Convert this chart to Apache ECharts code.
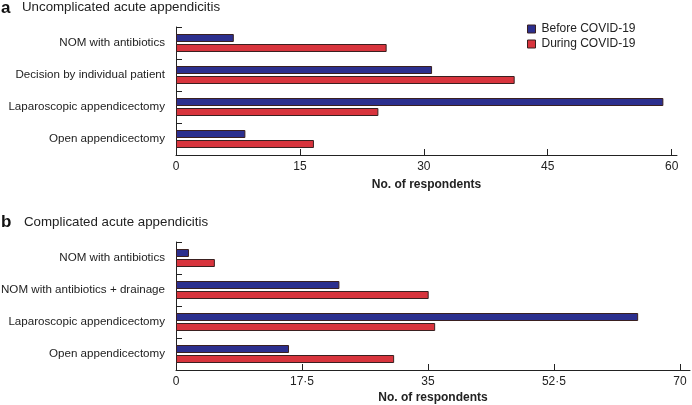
<!DOCTYPE html>
<html><head><meta charset="utf-8">
<script src="https://cdn.jsdelivr.net/npm/echarts@6/dist/echarts.min.js"></script>
<style>html,body{margin:0;padding:0;background:#fff}#c{width:692px;height:405px}</style>
</head><body><div id="c"></div>
<script>
// Panel a: uncomplicated
const catsA = ['NOM with antibiotics', 'Decision by individual patient', 'Laparoscopic appendicectomy', 'Open appendicectomy'];
const beforeA = [7, 31, 59, 8.4];
const duringA = [25.5, 41, 24.5, 16.7];
const ticksA = [0, 15, 30, 45, 60];
// Panel b: complicated
const catsB = ['NOM with antibiotics', 'NOM with antibiotics + drainage', 'Laparoscopic appendicectomy', 'Open appendicectomy'];
const beforeB = [1.8, 22.7, 64.2, 15.7];
const duringB = [5.4, 35.1, 36, 30.3];
const ticksB = [0, 17.5, 35, 52.5, 70];
const seriesNames = ['Before COVID-19', 'During COVID-19'];
const axisName = 'No. of respondents';
const titleA = ['a', 'Uncomplicated acute appendicitis'];
const titleB = ['b', 'Complicated acute appendicitis'];

const FONT = "'Liberation Sans', Arial, Helvetica, sans-serif";
const BLUE = '#2c2f8e';
const RED = '#d8343d';
const TXT = '#222';

function xAx(gi, max, ticks, gap) {
  return {
    type: 'value', gridIndex: gi, min: 0, max: max,
    name: axisName, nameLocation: 'middle', nameGap: gap,
    nameTextStyle: { fontFamily: FONT, fontSize: 12, fontWeight: 'bold', color: TXT },
    splitLine: { show: false },
    axisLine: { show: true, lineStyle: { color: '#222', width: 1 } },
    axisTick: { show: true, inside: true, length: 6, customValues: ticks, lineStyle: { color: '#222' } },
    axisLabel: { customValues: ticks, fontFamily: FONT, fontSize: 12, color: TXT, margin: 6,
      formatter: v => String(v).replace('.', '\u00b7') }
  };
}
function yAx(gi, cats) {
  return {
    type: 'category', gridIndex: gi, data: cats, inverse: true,
    axisLine: { show: true, lineStyle: { color: '#222', width: 1 } },
    axisTick: { show: true, inside: true, length: 6, alignWithLabel: false, lineStyle: { color: '#222' } },
    axisLabel: { fontFamily: FONT, fontSize: 11.6, color: TXT, margin: 11 },
    splitLine: { show: false }
  };
}
function bar(name, data, gi, color) {
  return {
    type: 'bar', name: name, data: data, xAxisIndex: gi, yAxisIndex: gi,
    barWidth: 8, barGap: '25%',
    itemStyle: { color: color, borderColor: '#3a2020', borderWidth: 1 },
    emphasis: { disabled: true }
  };
}

const chart = echarts.init(document.getElementById('c'), null, { renderer: 'canvas' });
chart.setOption({
  animation: false,
  textStyle: { fontFamily: FONT },
  grid: [
    { left: 176, right: 15, top: 27, height: 128, containLabel: false, outerBoundsMode: 'none' },
    { left: 176, right: 2, top: 242, height: 128, containLabel: false, outerBoundsMode: 'none' }
  ],
  xAxis: [xAx(0, 60.65, ticksA, 24), xAx(1, 71.4, ticksB, 22)],
  yAxis: [yAx(0, catsA), yAx(1, catsB)],
  legend: {
    data: seriesNames, orient: 'vertical', left: 522, top: 18, icon: 'rect',
    itemWidth: 8, itemHeight: 8, itemGap: 3,
    itemStyle: { borderColor: '#3a2020', borderWidth: 1 },
    textStyle: { fontFamily: FONT, fontSize: 12, color: TXT, padding: [0, 0, 0, 1] }
  },
  graphic: [
    { type: 'text', left: 1, top: 0, style: { text: titleA[0], font: "bold 17px " + FONT, fill: '#111' } },
    { type: 'text', left: 22, top: 1, style: { text: titleA[1], font: "13.3px " + FONT, fill: TXT } },
    { type: 'text', left: 1, top: 214, style: { text: titleB[0], font: "bold 17px " + FONT, fill: '#111' } },
    { type: 'text', left: 24, top: 216, style: { text: titleB[1], font: "13.3px " + FONT, fill: TXT } }
  ],
  series: [
    bar(seriesNames[0], beforeA, 0, BLUE),
    bar(seriesNames[1], duringA, 0, RED),
    bar(seriesNames[0], beforeB, 1, BLUE),
    bar(seriesNames[1], duringB, 1, RED)
  ]
});
</script>
</body></html>
